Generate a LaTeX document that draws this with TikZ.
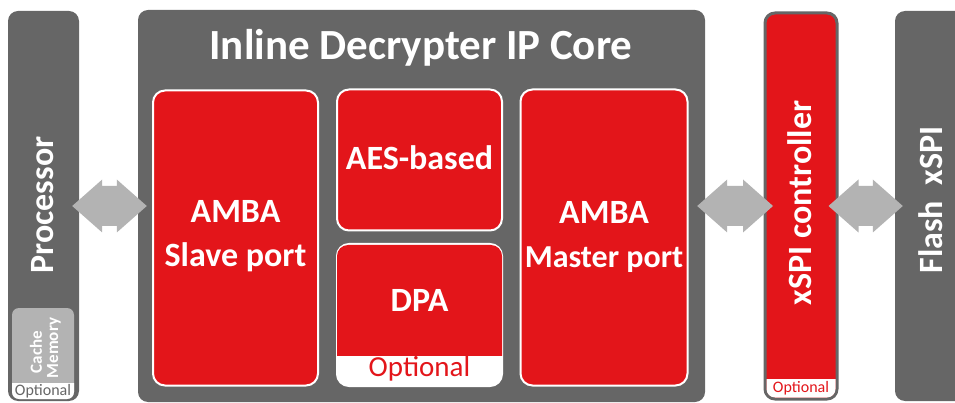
\documentclass[tikz,border=0pt]{standalone}
\usepackage{fontspec}
\setmainfont{Carlito}
\usetikzlibrary{calc}
\definecolor{dgray}{HTML}{666666}
\definecolor{lgray}{HTML}{B3B3B3}
\definecolor{ired}{HTML}{E3151A}
\newcommand\dblarr[2]{\fill[lgray] (#1) -- ($(#1)+(30,-26.5)$) -- ($(#1)+(30,-20)$) -- ($(#2)+(-30,-20)$) -- ($(#2)+(-30,-26.5)$) -- (#2) -- ($(#2)+(-30,26.5)$) -- ($(#2)+(-30,20)$) -- ($(#1)+(30,20)$) -- ($(#1)+(30,26.5)$) -- cycle;}
\begin{document}
\begin{tikzpicture}[x=1pt,y=-1pt,
  graybox/.style={fill=dgray, rounded corners=10pt, inner sep=0pt},
  redbox/.style={fill=ired, draw=white, line width=2pt, rounded corners=12pt, inner sep=0pt},
  lbl/.style={text=white, font=\bfseries\fontsize{34}{44}\selectfont, align=center, inner sep=0pt},
  small/.style={text=white, font=\bfseries\fontsize{17}{20}\selectfont, rotate=90, inner sep=0pt},
  opt/.style={font=\fontsize{16}{18}\selectfont, inner sep=0pt}]
\useasboundingbox (0,0) rectangle (955,403);
\clip (0,0) rectangle (955,403);
% outer boxes
\node[graybox, minimum width=71pt, minimum height=390pt] (proc) at (43.5,206) {};
\node[graybox, minimum width=567pt, minimum height=392pt] (core) at (421.5,206) {};
\node[graybox, minimum width=80pt, minimum height=390pt] (flash) at (935,206) {};
\node[fill=ired, draw=dgray, line width=3pt, rounded corners=10pt, inner sep=0pt, minimum width=72pt, minimum height=386pt] (ctrl) at (801,206) {};
\begin{scope}
  \clip (760,379) rectangle (842,405);
  \fill[white, rounded corners=8.5pt] (766.5,14.5) rectangle (835.5,397.5);
\end{scope}
% cache memory
\node[fill=lgray, rounded corners=7pt, inner sep=0pt, minimum width=62pt, minimum height=91pt] (cache) at (43,353.5) {};
\begin{scope}
  \clip (5,383) rectangle (80,405);
  \fill[white, rounded corners=7pt] (12,308) rectangle (74,399);
\end{scope}
% inner red boxes
\node[redbox, minimum width=165pt, minimum height=295pt] (slave) at (235.5,238) {};
\node[redbox, minimum width=165pt, minimum height=141pt] (aes) at (419.5,160) {};
\node[redbox, fill=white, minimum width=165pt, minimum height=142pt] (dpa) at (419.5,315) {};
\begin{scope}
  \clip (330,230) rectangle (510,355);
  \fill[ired, rounded corners=11pt] (337,245) rectangle (502,385);
\end{scope}
\node[redbox, minimum width=167pt, minimum height=296pt] (master) at (604,237.5) {};
% labels
\node[lbl, font=\bfseries\fontsize{43}{48}\selectfont] (title) at (421,48) {Inline Decrypter IP Core};
\node[lbl] (slavel) at (235.5,236) {AMBA\\Slave port};
\node[lbl] (aesl) at (419.5,158) {AES-based};
\node[lbl] (dpal) at (419.5,300) {DPA};
\node[opt, text=ired, font=\fontsize{29}{32}\selectfont] (dpaopt) at (419.5,369) {Optional};
\node[lbl] (masterl) at (604,237) {AMBA\\{\fontsize{32}{44}\selectfont Master port}};
\node[lbl, rotate=90] (procl) at (43,205) {Processor};
\node[lbl, rotate=90] (ctrll) at (800,203) {xSPI controller};
\node[lbl, rotate=90] (flashl) at (931,200) {Flash\ \ xSPI};
\node[small] (cachel) at (36,352) {Cache};
\node[small] (meml) at (54,348) {Memory};
\node[opt, text=dgray] (cacheopt) at (43,391) {Optional};
\node[opt, text=ired] (ctrlopt) at (801,388) {Optional};
% connectors
\coordinate (a1) at ([xshift=-7pt]proc.east);
\coordinate (a2) at ([xshift=9pt]core.west);
\coordinate (b1) at ([xshift=-8pt]core.east);
\coordinate (b2) at ([xshift=9.5pt]ctrl.west);
\coordinate (c1) at ([xshift=-10pt]ctrl.east);
\coordinate (c2) at ([xshift=8pt]flash.west);
\dblarr{a1}{a2}
\dblarr{b1}{b2}
\dblarr{c1}{c2}
\end{tikzpicture}
\end{document}
